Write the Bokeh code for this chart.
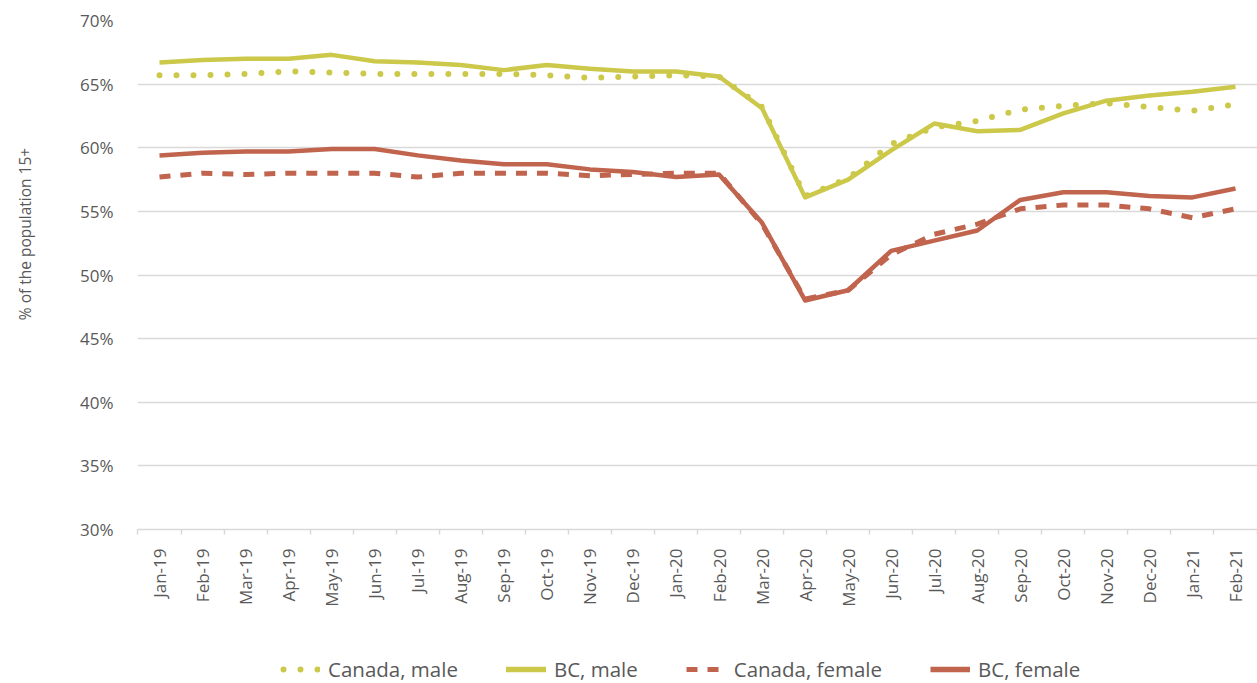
from math import pi
from bokeh.plotting import figure
from bokeh.layouts import column, row
from bokeh.models import FixedTicker, PrintfTickFormatter, Legend, LegendItem, Range1d, Label
from bokeh.embed import file_html
from bokeh.resources import INLINE

months = ["Jan-19", "Feb-19", "Mar-19", "Apr-19", "May-19", "Jun-19", "Jul-19", "Aug-19",
          "Sep-19", "Oct-19", "Nov-19", "Dec-19", "Jan-20", "Feb-20", "Mar-20", "Apr-20",
          "May-20", "Jun-20", "Jul-20", "Aug-20", "Sep-20", "Oct-20", "Nov-20", "Dec-20",
          "Jan-21", "Feb-21"]
canada_male = [65.7, 65.7, 65.8, 66.0, 65.9, 65.8, 65.8, 65.8, 65.8, 65.7, 65.5, 65.6, 65.7,
               65.6, 63.2, 56.2, 57.6, 60.3, 61.6, 62.1, 63.0, 63.3, 63.5, 63.2, 62.9, 63.4]
bc_male = [66.7, 66.9, 67.0, 67.0, 67.3, 66.8, 66.7, 66.5, 66.1, 66.5, 66.2, 66.0, 66.0,
           65.6, 63.1, 56.1, 57.5, 59.8, 61.9, 61.3, 61.4, 62.7, 63.7, 64.1, 64.4, 64.8]
canada_female = [57.7, 58.0, 57.9, 58.0, 58.0, 58.0, 57.7, 58.0, 58.0, 58.0, 57.8, 57.9, 58.0,
                 58.0, 54.0, 48.1, 48.8, 51.6, 53.2, 54.0, 55.2, 55.5, 55.5, 55.2, 54.5, 55.2]
bc_female = [59.4, 59.6, 59.7, 59.7, 59.9, 59.9, 59.4, 59.0, 58.7, 58.7, 58.3, 58.1, 57.7,
             57.9, 54.1, 48.0, 48.8, 51.9, 52.7, 53.5, 55.9, 56.5, 56.5, 56.2, 56.1, 56.8]
y_ticks = [30, 35, 40, 45, 50, 55, 60, 65, 70]
series_labels = ["Canada, male", "BC, male", "Canada, female", "BC, female"]
y_title = "% of the population 15+"

YEL = "#CBC84A"
RED = "#C1644E"
TXT = "#595959"
GRID = "#D9D9D9"
FONT = "Open Sans"

STYLES = [dict(line_color=YEL, line_width=6, line_dash="0 17", line_cap="round"),
          dict(line_color=YEL, line_width=4.5, line_join="round"),
          dict(line_color=RED, line_width=5, line_dash="11 10"),
          dict(line_color=RED, line_width=4.5, line_join="round")]
# legend swatch tweaks (first dot fully inside the swatch, rounded solid yellow swatch)
LEG_EXTRA = [dict(line_dash_offset=14), dict(line_cap="round", line_width=5.5),
             dict(), dict(line_width=5.5)]
SERIES = [canada_male, bc_male, canada_female, bc_female]

x = list(range(len(months)))
TOP = 20      # space above the frame
FH = 509      # frame height
B = 100       # space below the frame of the main plot
YW = 40       # width of the y-title strip
MAIN_H = TOP + FH + B

# ---------------- main plot ----------------
p = figure(frame_width=1120, frame_height=FH, output_backend="svg", toolbar_location=None,
           x_range=Range1d(-0.511, 25.511), y_range=Range1d(30, 70),
           min_border_left=137 - YW, min_border_right=0, min_border_top=TOP,
           min_border_bottom=B)
p.outline_line_color = None
p.background_fill_color = "white"
p.border_fill_color = "white"

xt = FixedTicker(ticks=x, minor_ticks=[i - 0.5 for i in range(len(months) + 1)])
p.xaxis.ticker = xt
p.xaxis.major_label_overrides = {i: m for i, m in enumerate(months)}
p.xaxis.major_label_orientation = pi / 2
p.xaxis.major_tick_out = 0
p.xaxis.major_tick_in = 0
p.xaxis.minor_tick_out = 5
p.xaxis.minor_tick_in = 0
p.xaxis.minor_tick_line_color = GRID
p.xaxis.minor_tick_line_width = 1.5
p.xaxis.axis_line_color = GRID
p.xaxis.axis_line_width = 1.5
p.xaxis.major_label_standoff = 14
p.xaxis.major_label_text_font = FONT
p.xaxis.major_label_text_font_size = "17px"
p.xaxis.major_label_text_color = TXT

yt = FixedTicker(ticks=y_ticks)
p.yaxis.ticker = yt
p.yaxis.formatter = PrintfTickFormatter(format="%d%%")
p.yaxis.axis_line_color = None
p.yaxis.major_tick_line_color = None
p.yaxis.minor_tick_line_color = None
p.yaxis.major_tick_out = 0
p.yaxis.major_tick_in = 0
p.yaxis.major_label_standoff = 24
p.yaxis.major_label_text_font = FONT
p.yaxis.major_label_text_font_size = "17px"
p.yaxis.major_label_text_color = TXT

p.xgrid.grid_line_color = None
p.ygrid.ticker = yt
p.ygrid.grid_line_color = GRID
p.ygrid.grid_line_width = 1.5

for vals, st in zip(SERIES, STYLES):
    p.line(x, vals, **st)

# ---------------- y-axis title strip ----------------
ylab_fig = figure(width=YW, height=MAIN_H, output_backend="svg", toolbar_location=None,
                  x_axis_location=None, y_axis_location=None,
                  min_border_left=0, min_border_right=0, min_border_top=TOP,
                  min_border_bottom=B)
ylab_fig.outline_line_color = None
ylab_fig.grid.visible = False
ylab_fig.border_fill_color = "white"
ylab_fig.add_layout(Label(x=24, y=(TOP + FH) - 233.5, x_units="screen", y_units="screen",
                          text=y_title, angle=pi / 2, text_align="center",
                          text_baseline="middle", text_font=FONT, text_font_size="15.5px",
                          text_color=TXT))

# ---------------- legend strip ----------------
LH = 683 - MAIN_H
leg_fig = figure(width=1257, height=LH, output_backend="svg", toolbar_location=None,
                 x_axis_location=None, y_axis_location=None,
                 x_range=Range1d(-200, -199), y_range=Range1d(-200, -199),
                 min_border_left=0, min_border_right=0, min_border_top=0, min_border_bottom=0)
leg_fig.outline_line_color = None
leg_fig.grid.visible = False
leg_fig.border_fill_color = "white"
items = []
for lab, vals, st, extra in zip(series_labels, SERIES, STYLES, LEG_EXTRA):
    # outside the strip's ranges: only the legend swatch shows
    r = leg_fig.line(x, vals, **{**st, **extra})
    items.append(LegendItem(label=lab, renderers=[r]))
legend = Legend(items=items, orientation="horizontal", location=(280, 0),
                glyph_width=40, glyph_height=20, label_standoff=8, spacing=48,
                padding=0, margin=0, border_line_color=None, background_fill_alpha=0,
                label_text_font=FONT, label_text_font_size="20.5px", label_text_color=TXT)
leg_fig.add_layout(legend)

layout = column(row(ylab_fig, p), leg_fig)
open("out.html", "w").write(file_html(layout, INLINE))
